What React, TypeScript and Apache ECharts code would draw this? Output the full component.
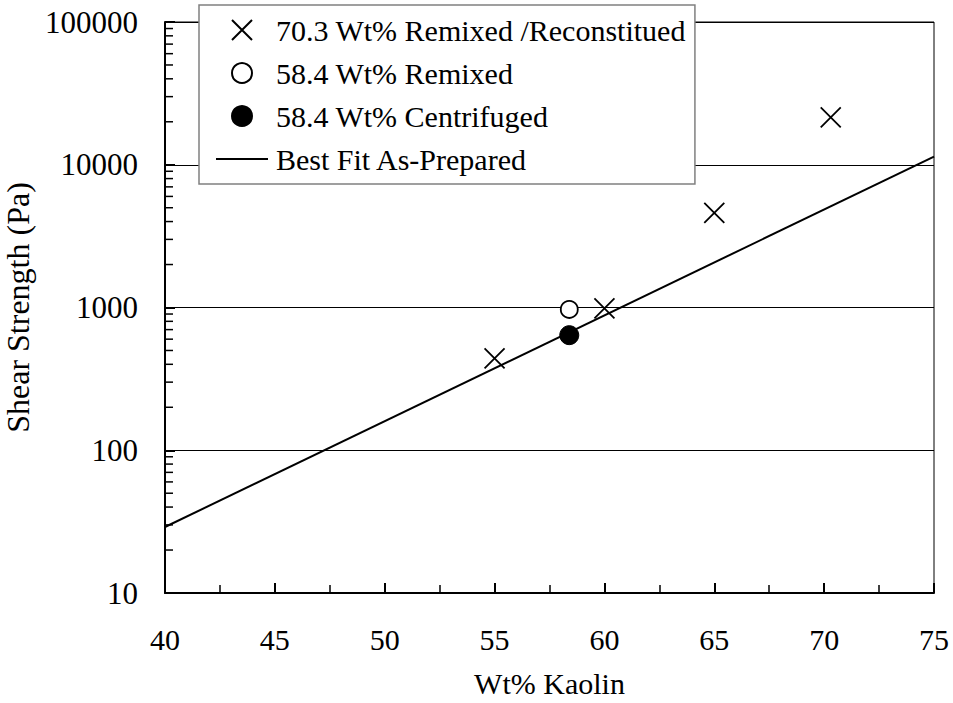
import React, { useEffect, useRef } from "react";
import * as echarts from "echarts";

// ---- data ----
const reconX = [55, 60, 65, 70.3];
const reconY = [440, 985, 4600, 21500];
const remixedX = [58.4];
const remixedY = [970];
const centrifugedX = [58.4];
const centrifugedY = [640];
const fitX = [40, 75];
const fitY = [29, 11400];

const seriesNames = [
  "70.3 Wt% Remixed /Reconstitued",
  "58.4 Wt% Remixed",
  "58.4 Wt% Centrifuged",
  "Best Fit As-Prepared",
];
const xAxisName = "Wt% Kaolin";
const yAxisName = "Shear Strength (Pa)";
const decades = [10, 100, 1000, 10000];
const minorMultipliers = [2, 3, 4, 5, 6, 7, 8, 9];

const FONT = "'Liberation Serif', 'Times New Roman', serif";
const CROSS = "path://M0,0L10,10M10,0L0,10";
const LINE_ICON = "path://M0,0L52,0L52,2L0,2Z";

export default function App() {
  const ref = useRef<HTMLDivElement>(null);
  useEffect(() => {
    if (!ref.current) return;
    const chart = echarts.init(ref.current, undefined, { renderer: "svg" });
    const minorY: number[][] = [];
    decades.forEach((d) => minorMultipliers.forEach((m) => minorY.push([40, d * m])));
    const zip = (xs: number[], ys: number[]) => xs.map((x, i) => [x, ys[i]]);

    chart.setOption({
      animation: false,
      backgroundColor: "#fff",
      grid: {
        left: 165,
        right: 19,
        top: 22,
        bottom: 110,
        containLabel: false,
        outerBoundsMode: "none",
        show: true,
        borderColor: "#000",
        borderWidth: 1,
      },
      legend: {
        orient: "vertical",
        left: 199,
        top: 5,
        padding: [10, 9, 10, 17],
        itemGap: 13,
        itemWidth: 52,
        itemHeight: 20,
        backgroundColor: "#fff",
        borderColor: "#808080",
        borderWidth: 1.5,
        borderRadius: 0,
        textStyle: { fontFamily: FONT, fontSize: 30, color: "#000", padding: [0, 0, 0, 3] },
        data: [
          { name: seriesNames[0] },
          { name: seriesNames[1] },
          { name: seriesNames[2] },
          { name: seriesNames[3], icon: LINE_ICON, itemStyle: { color: "#000", borderWidth: 0 } },
        ],
        selectedMode: false,
      },
      xAxis: {
        type: "value",
        min: 40,
        max: 75,
        interval: 5,
        name: xAxisName,
        nameLocation: "middle",
        nameGap: 75,
        nameTextStyle: { fontFamily: FONT, fontSize: 30, color: "#000" },
        axisLine: { show: true, lineStyle: { color: "#000", width: 2 } },
        axisTick: { show: true, inside: true, length: 10, lineStyle: { color: "#000", width: 2 } },
        minorTick: { show: true, splitNumber: 2, length: 8, lineStyle: { color: "#000", width: 1.5 } },
        axisLabel: { fontFamily: FONT, fontSize: 30, color: "#000", margin: 31 },
        splitLine: { show: false },
      },
      yAxis: {
        type: "log",
        logBase: 10,
        min: 10,
        max: 100000,
        name: yAxisName,
        nameLocation: "middle",
        nameGap: 130,
        nameTextStyle: { fontFamily: FONT, fontSize: 32, color: "#000" },
        axisLine: { show: true, lineStyle: { color: "#000", width: 2 } },
        axisTick: { show: true, inside: true, length: 10, lineStyle: { color: "#000", width: 2 } },
        axisLabel: {
          fontFamily: FONT,
          fontSize: 31,
          color: "#000",
          margin: 27,
          formatter: (v: number) => String(Math.round(v)),
        },
        splitLine: { show: true, lineStyle: { color: "#000", width: 1 } },
      },
      series: [
        {
          type: "custom",
          name: "minorTicks",
          silent: true,
          data: minorY,
          renderItem: (_p: any, api: any) => {
            const pt = api.coord([api.value(0), api.value(1)]);
            return {
              type: "line",
              shape: { x1: pt[0], y1: pt[1], x2: pt[0] + 8, y2: pt[1] },
              style: { stroke: "#000", lineWidth: 1.5 },
            };
          },
          z: 5,
        },
        {
          type: "line",
          name: seriesNames[3],
          data: zip(fitX, fitY),
          symbol: "none",
          showSymbol: false,
          lineStyle: { color: "#000", width: 2 },
          itemStyle: { color: "#000" },
          z: 3,
        },
        {
          type: "scatter",
          name: seriesNames[0],
          data: zip(reconX, reconY),
          symbol: CROSS,
          symbolSize: 20,
          itemStyle: { color: "#000", borderColor: "#000", borderWidth: 1.8, opacity: 1 },
          z: 4,
        },
        {
          type: "scatter",
          name: seriesNames[1],
          data: zip(remixedX, remixedY),
          symbol: "circle",
          symbolSize: 17,
          itemStyle: { color: "#fff", borderColor: "#000", borderWidth: 1.8, opacity: 1 },
          z: 4,
        },
        {
          type: "scatter",
          name: seriesNames[2],
          data: zip(centrifugedX, centrifugedY),
          symbol: "circle",
          symbolSize: 19,
          itemStyle: { color: "#000", borderColor: "#000", borderWidth: 1, opacity: 1 },
          z: 4,
        },
      ],
    });
    return () => chart.dispose();
  }, []);

  return (
    <div
      ref={ref}
      style={{ position: "fixed", left: 0, top: 0, width: 953, height: 703, background: "#fff" }}
    />
  );
}
